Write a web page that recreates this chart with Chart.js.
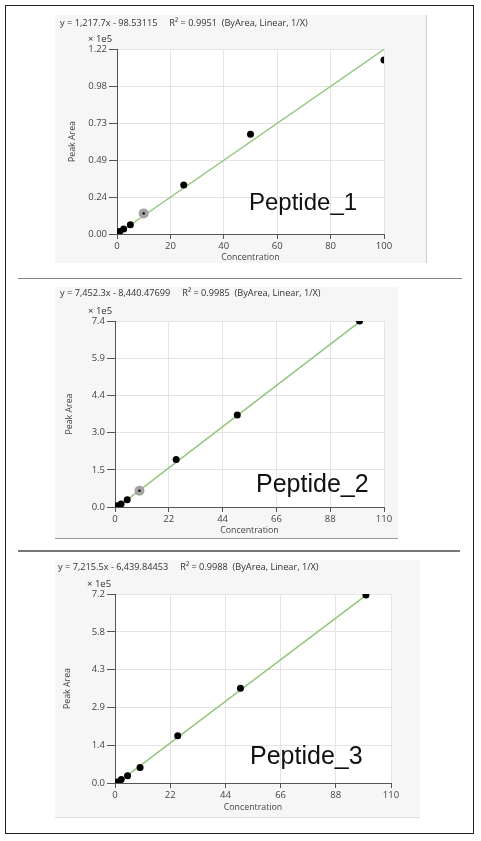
<!DOCTYPE html>
<html>
<head>
<meta charset="utf-8">
<script src="https://cdn.jsdelivr.net/npm/chart.js@4.4.1/dist/chart.umd.min.js"></script>
<style>
  body { margin: 0; background: #fff; width: 481px; height: 841px; position: relative; overflow: hidden; font-family: "Open Sans", "Noto Sans", sans-serif; }
  .frame { position: absolute; left: 5px; top: 5px; width: 467px; height: 827px; border: 1.5px solid #222; }
  .panel { position: absolute; background: #f6f6f7; }
  .panel canvas { position: absolute; left: 0; top: 0; }
  .eq { position: absolute; font-size: 9.2px; line-height: 12px; color: #333; white-space: pre; }
  .mult { position: absolute; font-size: 9.5px; line-height: 12px; color: #333; }
  .pep { position: absolute; font-family: "Liberation Sans", Arial, sans-serif; color: #111; line-height: 1; }
  .rule { position: absolute; background: #888; }
</style>
</head>
<body>
<div class="frame"></div>

<div class="panel" id="p1" style="left:55px;top:15px;width:371px;height:248px;border-right:1px solid #ccc;"><canvas id="c1"></canvas></div>
<div class="panel" id="p2" style="left:55px;top:287px;width:343px;height:251px;border-bottom:1px solid #999;"><canvas id="c2"></canvas></div>
<div class="panel" id="p3" style="left:55px;top:560px;width:365px;height:257px;border-bottom:1px solid #ddd;"><canvas id="c3"></canvas></div>

<div class="rule" style="left:18px;top:278px;width:444px;height:1px;"></div>
<div class="rule" style="left:18px;top:550px;width:442px;height:2px;background:#777;"></div>

<div class="eq" style="left:60px;top:17px;">y = 1,217.7x - 98.53115     R² = 0.9951  (ByArea, Linear, 1/X)</div>
<div class="eq" style="left:60px;top:287px;">y = 7,452.3x - 8,440.47699     R² = 0.9985  (ByArea, Linear, 1/X)</div>
<div class="eq" style="left:58px;top:561px;">y = 7,215.5x - 6,439.84453     R² = 0.9988  (ByArea, Linear, 1/X)</div>

<div class="mult" style="left:88px;top:33px;">× 1e5</div>
<div class="mult" style="left:88px;top:305px;">× 1e5</div>
<div class="mult" style="left:87px;top:578px;">× 1e5</div>

<div class="pep" style="left:249px;top:190px;font-size:24px;">Peptide_1</div>
<div class="pep" style="left:256px;top:471px;font-size:25px;">Peptide_2</div>
<div class="pep" style="left:250px;top:743px;font-size:25px;">Peptide_3</div>

<script>
// concentrations are the same standards for all three peptides
const conc = [0.5, 1, 2.5, 5, 10, 25, 50, 100];

// peak areas, in units of 1e5
const area1 = [0.012, 0.016, 0.033, 0.061, 0.136, 0.323, 0.658, 1.148];
const area2 = [0.03, 0.05, 0.12, 0.29, 0.65, 1.89, 3.66, 7.40];
const area3 = [0.02, 0.04, 0.13, 0.28, 0.59, 1.80, 3.61, 7.16];

// regression line end points (x, then y in 1e5)
const fitX = [0.5, 100];
const fit1 = [0.005, 1.217];
const fit2 = [-0.047, 7.368];
const fit3 = [-0.028, 7.151];

// index of the grey (excluded / selected) point, -1 for none
const mark1 = 4;
const mark2 = 4;
const mark3 = -1;

const xTicks1 = [0, 20, 40, 60, 80, 100];
const xTicks2 = [0, 22, 44, 66, 88, 110];
const xTicks3 = [0, 22, 44, 66, 88, 110];
const yTicks1 = ['0.00', '0.24', '0.49', '0.73', '0.98', '1.22'];
const yTicks2 = ['0.0', '1.5', '3.0', '4.4', '5.9', '7.4'];
const yTicks3 = ['0.0', '1.4', '2.9', '4.3', '5.8', '7.2'];
const yMax1 = 1.22, yMax2 = 7.4, yMax3 = 7.2;

const plotBg = {
  id: 'plotBg',
  beforeDraw(chart) {
    const a = chart.chartArea, ctx = chart.ctx;
    ctx.save();
    ctx.fillStyle = '#ffffff';
    ctx.fillRect(a.left, a.top, a.right - a.left, a.bottom - a.top);
    ctx.restore();
  }
};

function makeChart(id, box, ys, fit, mark, xTicks, yLabels, yMax, titles) {
  const cv = document.getElementById(id);
  const pts = conc.map((x, i) => ({ x: x, y: ys[i] }));
  const marked = mark >= 0 ? [pts[mark]] : [];
  const yVals = yLabels.map((s, i) => yMax * i / (yLabels.length - 1));
  const tickFont = { family: 'Open Sans', size: 9.5 };
  const titleFont = { family: 'Open Sans', size: 8.8 };
  return new Chart(cv, {
    type: 'scatter',
    data: {
      datasets: [
        { data: marked, pointRadius: 1.2, pointBackgroundColor: '#000', pointBorderWidth: 0, order: 1 },
        {
          data: pts, order: 2, pointBorderWidth: 0,
          pointRadius: pts.map((p, i) => i === mark ? 5 : 3.5),
          pointBackgroundColor: pts.map((p, i) => i === mark ? '#a3a3a3' : '#000')
        },
        {
          type: 'line', order: 3, showLine: true, pointRadius: 0,
          data: fitX.map((x, i) => ({ x: x, y: fit[i] })),
          borderColor: '#93c67b', borderWidth: 1.5
        }
      ]
    },
    options: {
      responsive: false,
      animation: false,
      devicePixelRatio: 1,
      layout: { padding: { left: 0, top: box.top, right: box.right, bottom: 0 } },
      plugins: { legend: { display: false }, tooltip: { enabled: false } },
      scales: {
        x: {
          type: 'linear', min: 0, max: xTicks[xTicks.length - 1],
          afterBuildTicks: s => { s.ticks = xTicks.map(v => ({ value: v })); },
          afterFit: s => { s.height = box.bottom; },
          grid: { color: '#e4e4e4', tickColor: '#555', tickLength: 5 },
          border: { color: '#555', width: 1 },
          ticks: { font: tickFont, color: '#444', padding: 2, maxRotation: 0 },
          title: { display: true, text: 'Concentration', font: titleFont, color: '#444', padding: { top: 0, bottom: titles.xPad } }
        },
        y: {
          type: 'linear', min: 0, max: yMax,
          afterBuildTicks: s => { s.ticks = yVals.map(v => ({ value: v })); },
          afterFit: s => { s.width = box.left; },
          grid: { color: '#e4e4e4', tickColor: '#555', tickLength: 8 },
          border: { color: '#555', width: 1 },
          ticks: { font: tickFont, color: '#444', padding: 2, callback: (v, i) => yLabels[i] },
          title: { display: true, text: 'Peak Area', font: titleFont, color: '#444', padding: { top: titles.yPad, bottom: 0 } }
        }
      }
    },
    plugins: [plotBg]
  });
}

function sizeCanvas(id, w, h) {
  const cv = document.getElementById(id);
  cv.width = w; cv.height = h;
  cv.style.width = w + 'px'; cv.style.height = h + 'px';
}

sizeCanvas('c1', 371, 248);
sizeCanvas('c2', 343, 251);
sizeCanvas('c3', 365, 257);

makeChart('c1', { left: 62, top: 34, right: 42, bottom: 29 }, area1, fit1, mark1, xTicks1, yTicks1, yMax1, { yPad: 12, xPad: 0 });
makeChart('c2', { left: 60, top: 34, right: 14, bottom: 31 }, area2, fit2, mark2, xTicks2, yTicks2, yMax2, { yPad: 9, xPad: 2 });
makeChart('c3', { left: 60, top: 34, right: 29, bottom: 34 }, area3, fit3, mark3, xTicks3, yTicks3, yMax3, { yPad: 7, xPad: 4 });
</script>
</body>
</html>
